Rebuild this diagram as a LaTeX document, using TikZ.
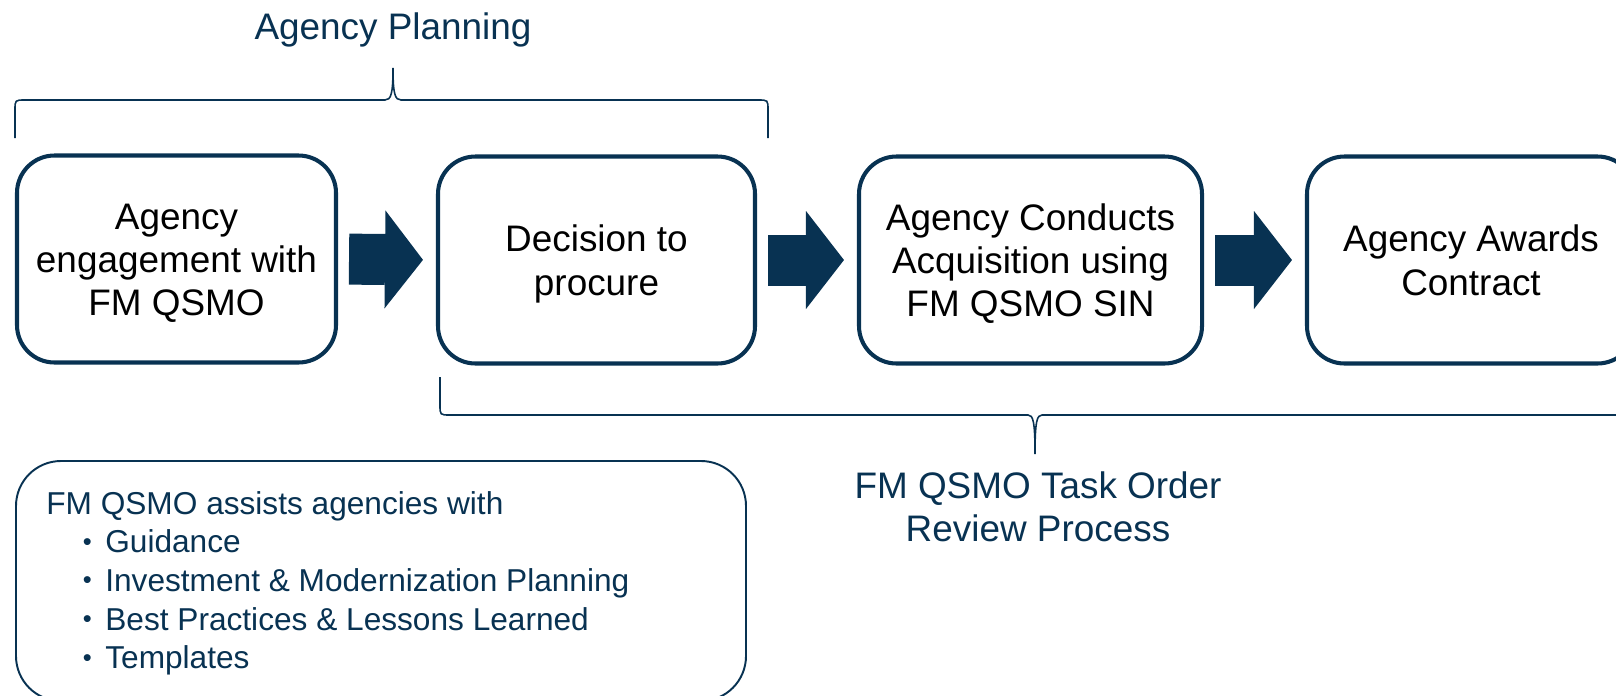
\documentclass[tikz,border=0pt]{standalone}
\usepackage{fontspec}
\setmainfont{Liberation Sans}
\usepackage{tikz}
\usetikzlibrary{arrows.meta}

\definecolor{navy}{RGB}{8,50,82}
\newcommand{\stepstrut}{\rule[-4.7pt]{0pt}{24.7pt}}
\newcommand{\assistitem}[1]{\hspace*{0.73cm}\makebox[0.45cm][l]{\raisebox{1.5pt}{\fontsize{14.5}{14.5}\selectfont\textbullet}}#1}

\begin{document}
\begin{tikzpicture}[x=0.2mm, y=-0.2mm,
        stepbox/.style={draw=navy, line width=2.3pt, rounded corners=0.75cm, minimum height=4.14cm, align=center, inner sep=0pt, font=\fontsize{21}{24.7}\selectfont},
        flow/.style={navy, line width=1.02cm, shorten <=0.22cm, shorten >=0.26cm, -{Triangle[length=0.76cm 0, width=1.96cm 0, line width=0pt 0]}},
        brace/.style={navy, line width=0.9pt},
        heading/.style={text=navy, align=center, inner sep=0pt, font=\fontsize{21}{24.7}\selectfont}]
        \useasboundingbox (0, 0) rectangle (1616, 695);

        % the four steps
        \node[stepbox, minimum width=6.38cm] (engage) at (176.5, 259) {\stepstrut Agency\\\stepstrut engagement with\\\stepstrut FM QSMO};
        \node[stepbox, minimum width=6.34cm] (decide) at (596.5, 260) {\stepstrut Decision to\\\stepstrut procure};
        \node[stepbox, minimum width=6.86cm] (conduct) at (1030.5, 260) {\stepstrut Agency Conducts\\\stepstrut Acquisition using\\\stepstrut FM QSMO SIN};
        \node[stepbox, minimum width=6.56cm] (award) at (1471, 260) {\stepstrut Agency Awards\\\stepstrut Contract};

        \draw[flow] (engage.east) -- (decide.west);
        \draw[flow] (decide.east) -- (conduct.west);
        \draw[flow] (conduct.east) -- (award.west);

        % braces
        \draw[brace] (15, 138) -- (15, 110) .. controls (15, 100) .. (25, 100) -- (385, 100)
            .. controls (391, 100) and (393, 94) .. (393, 68) .. controls (393, 94) and (395, 100) .. (401, 100)
            -- (758, 100) .. controls (768, 100) .. (768, 110) -- (768, 138);
        \draw[brace] (440, 377) -- (440, 405) .. controls (440, 415) .. (450, 415) -- (1028, 415)
            .. controls (1033, 415) and (1035, 421) .. (1035, 454) .. controls (1035, 421) and (1037, 415) .. (1042, 415)
            -- (1630, 415);

        \node[heading, anchor=base] (planning) at (393, 39) {Agency Planning};
        \node[heading, anchor=north] (review) at (1038, 471) {FM QSMO Task Order\\Review Process};

        % what FM QSMO offers
        \node[draw=navy, line width=1.1pt, rounded corners=0.9cm, minimum width=14.6cm, minimum height=4.8cm] (assist) at (381, 581) {};
        \node[anchor=north west, inner sep=0pt, text=navy, align=left, font=\fontsize{18}{22}\selectfont] (assisttext) at (46, 491) {FM QSMO assists agencies with\\
            \assistitem{Guidance}\\
            \assistitem{Investment \& Modernization Planning}\\
            \assistitem{Best Practices \& Lessons Learned}\\
            \assistitem{Templates}};
    \end{tikzpicture}
\end{document}
